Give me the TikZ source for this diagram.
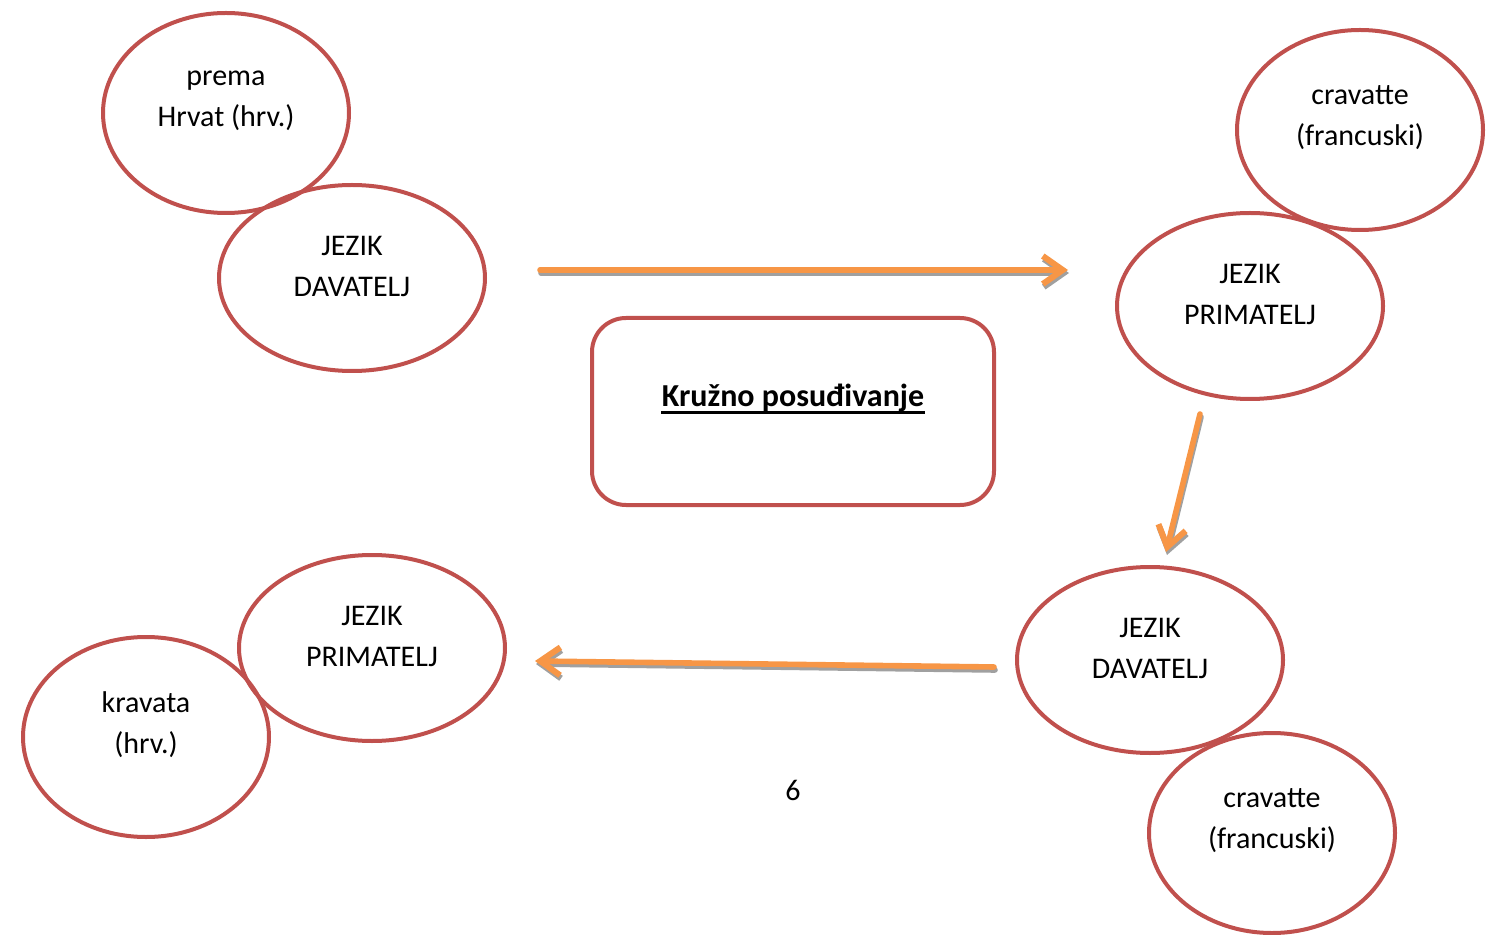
\documentclass[tikz,border=0pt]{standalone}
\usepackage{fontspec}
\setmainfont{Carlito}
\usetikzlibrary{shapes.geometric}
\usetikzlibrary{arrows.meta}
\usetikzlibrary{calc}
\definecolor{crvena}{RGB}{192,80,77}
\definecolor{narancasta}{RGB}{247,150,70}
\definecolor{sjena}{RGB}{160,160,160}

\begin{document}
\begin{tikzpicture}[x=0.5pt,y=-0.5pt,line join=round,line cap=round,
        jezik/.style={ellipse,draw=crvena,line width=2pt,inner sep=0pt,minimum width=133pt,minimum height=93pt},
        rijec/.style={ellipse,draw=crvena,line width=2pt,inner sep=0pt,minimum width=123pt,minimum height=100pt},
        tekst/.style={align=center,font=\fontsize{15}{20.5}\selectfont},
        strelica/.style={narancasta,line width=2.8pt,-{Straight Barb[length=10pt,width=14pt,line width=3pt]}},
        sjenka/.style={sjena,line width=2.8pt,-{Straight Barb[length=10pt,width=14pt,line width=3pt]}}]
    \useasboundingbox (0,0) rectangle (1488,935);
    \def\pomak{12}% tekst iznad sredine elipse
    % elipse
    \node[rijec] (hrv) at (226,113) {};
    \node[jezik] (dav1) at (352,278) {};
    \node[rijec] (fra1) at (1360,130) {};
    \node[jezik] (prim1) at (1250,306) {};
    \node[jezik] (dav2) at (1150,660) {};
    \node[rijec] (fra2) at (1272,833) {};
    \node[jezik] (prim2) at (372,648) {};
    \node[rijec] (krav) at (146,737) {};
    % tekstovi
    \node[tekst] at ($(hrv.center)+(0,-\pomak)$) {prema\\Hrvat (hrv.)};
    \node[tekst] at ($(dav1.center)+(0,-\pomak)$) {JEZIK\\DAVATELJ};
    \node[tekst] at ($(fra1.center)+(0,-\pomak)$) {cravatte\\(francuski)};
    \node[tekst] at ($(prim1.center)+(0,-\pomak)$) {JEZIK\\PRIMATELJ};
    \node[tekst] at ($(dav2.center)+(0,-\pomak)$) {JEZIK\\DAVATELJ};
    \node[tekst] at ($(fra2.center)+(0,-\pomak)$) {cravatte\\(francuski)};
    \node[tekst] at ($(prim2.center)+(0,-\pomak)$) {JEZIK\\PRIMATELJ};
    \node[tekst] at ($(krav.center)+(0,-\pomak)$) {kravata\\(hrv.)};
    % okvir s naslovom
    \draw[crvena,line width=2pt,rounded corners=17pt] (592,318) rectangle (994,505);
    \node[inner sep=0pt,font=\fontsize{16}{19}\selectfont\bfseries] (naslov) at (793,398) {Kružno posuđivanje};
    \draw[line width=1.3pt,line cap=butt] ([yshift=-3pt]naslov.base west) -- ([yshift=-3pt]naslov.base east);
    \node[tekst] (broj) at (793,790) {6};
    % strelice
    \path (540,270)coordinate(A1)(1068,270)coordinate(B1)
          (1200,414)coordinate(A2)(1166,552)coordinate(B2)
          (994,667)coordinate(A3)(535,661)coordinate(B3);
    \foreach \p/\k in {A1/B1,A2/B2,A3/B3}{
        \draw[sjenka] ([shift={(1,3)}]\p) -- ([shift={(1,3)}]\k);
        \draw[strelica] (\p) -- (\k);
    }
\end{tikzpicture}
\end{document}
